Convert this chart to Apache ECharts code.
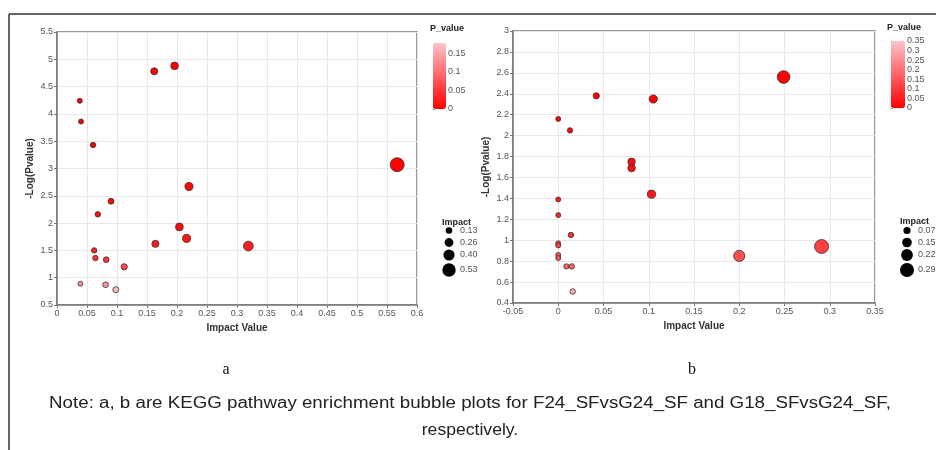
<!DOCTYPE html>
<html>
<head>
<meta charset="utf-8">
<script src="https://cdn.jsdelivr.net/npm/echarts@6/dist/echarts.min.js"></script>
<style>
  html, body { margin: 0; padding: 0; background: #fff; }
  #main { width: 936px; height: 450px; }
</style>
</head>
<body>
<div id="main"></div>
<script>
var chartDom = document.getElementById('main');
var myChart = echarts.init(chartDom);
var option;

// plot a : F24_SFvsG24_SF
var impactA = [0.162, 0.196, 0.038, 0.040, 0.060, 0.567, 0.220, 0.090, 0.068, 0.204,
               0.216, 0.164, 0.319, 0.062, 0.064, 0.082, 0.112, 0.039, 0.081, 0.098];
var logPA   = [4.78, 4.88, 4.24, 3.86, 3.43, 3.07, 2.67, 2.40, 2.16, 1.93,
               1.72, 1.62, 1.58, 1.50, 1.36, 1.33, 1.20, 0.89, 0.87, 0.78];

// plot b : G18_SFvsG24_SF
var impactB = [0.249, 0.042, 0.105, 0.000, 0.013, 0.081, 0.081, 0.103, 0.000, 0.000,
               0.014, 0.000, 0.000, 0.000, 0.000, 0.291, 0.200, 0.009, 0.015, 0.016];
var logPB   = [2.56, 2.38, 2.35, 2.16, 2.05, 1.75, 1.69, 1.44, 1.39, 1.24,
               1.05, 0.97, 0.95, 0.86, 0.83, 0.94, 0.85, 0.75, 0.75, 0.51];

var pTicksA = [0, 0.05, 0.1, 0.15];
var pTicksB = [0, 0.05, 0.1, 0.15, 0.2, 0.25, 0.3, 0.35];
var sizeLegendA = [0.13, 0.26, 0.40, 0.53];
var sizeLegendB = [0.07, 0.15, 0.22, 0.29];

function build(imp, lp) {
    var out = [];
    for (var i = 0; i < imp.length; i++) {
        out.push([imp[i], lp[i], Math.pow(10, -lp[i])]);
    }
    return out;
}

function sizer(imp) {
    var lo = Math.min.apply(null, imp), hi = Math.max.apply(null, imp);
    return function (v) { return 5 + 9 * (v - lo) / (hi - lo); };
}
var sizeA = sizer(impactA);
var sizeB = sizer(impactB);

var font = 'Liberation Sans, Arial, sans-serif';
var axisGray = '#777';

function plotX(grid, min, max) {
    return {
        gridIndex: grid, type: 'value', min: min, max: max, interval: 0.05,
        name: 'Impact Value', nameLocation: 'middle', nameGap: 14,
        nameTextStyle: { fontFamily: font, fontWeight: 'bold', fontSize: 10, color: '#333' },
        axisLine: { onZero: false, lineStyle: { color: axisGray, width: 1.5 } },
        axisTick: { show: true, length: 3, lineStyle: { color: axisGray } },
        axisLabel: { fontFamily: font, fontSize: 9, color: '#555', margin: 4 },
        splitLine: { show: true, lineStyle: { color: '#e8e8e8' } }
    };
}
function plotY(grid, min, max, step) {
    return {
        gridIndex: grid, type: 'value', min: min, max: max, interval: step,
        name: '-Log(Pvalue)', nameLocation: 'middle', nameGap: 22, nameRotate: 90,
        nameTextStyle: { fontFamily: font, fontWeight: 'bold', fontSize: 10, color: '#333' },
        axisLine: { onZero: false, lineStyle: { color: axisGray, width: 1.5 } },
        axisTick: { show: true, length: 3, lineStyle: { color: axisGray } },
        axisLabel: { fontFamily: font, fontSize: 9, color: '#555', margin: 4 },
        splitLine: { show: true, lineStyle: { color: '#e8e8e8' } }
    };
}
function barX(grid) {
    return { gridIndex: grid, type: 'value', show: false };
}
function barY(grid, max, ticks) {
    return {
        gridIndex: grid, type: 'value', position: 'right', min: 0, max: max,
        axisLine: { show: false },
        axisTick: { show: true, length: 2, customValues: ticks, lineStyle: { color: '#888' } },
        axisLabel: { fontFamily: font, fontSize: 9, color: '#555', margin: 2, customValues: ticks },
        splitLine: { show: false }
    };
}

function sizeLegend(x, y, values, fn) {
    var items = [{
        type: 'text', left: x - 4, top: y - 12,
        style: { text: 'Impact', font: 'bold 9px ' + font, fill: '#222' }
    }];
    var rows = [230.5, 242.5, 255, 270];
    for (var i = 0; i < values.length; i++) {
        var r = fn(values[i]) / 2;
        items.push({ type: 'circle', shape: { cx: x + 3, cy: rows[i], r: r }, style: { fill: '#000' } });
        items.push({
            type: 'text', x: x + 14, y: rows[i],
            style: { text: values[i].toFixed(2), font: '9px ' + font, fill: '#555', verticalAlign: 'middle' }
        });
    }
    return items;
}

var graphics = [
    { type: 'line', shape: { x1: 9, y1: 14, x2: 936, y2: 14 }, style: { stroke: '#333', lineWidth: 1.5 } },
    { type: 'line', shape: { x1: 9, y1: 14, x2: 9, y2: 450 }, style: { stroke: '#333', lineWidth: 1.5 } },
    { type: 'text', left: 430, top: 24, style: { text: 'P_value', font: 'bold 9px ' + font, fill: '#222' } },
    { type: 'text', left: 887, top: 23, style: { text: 'P_value', font: 'bold 9px ' + font, fill: '#222' } },
    { type: 'text', x: 226, y: 370, style: { text: 'a', font: '16px Liberation Serif, serif', fill: '#111', align: 'center', verticalAlign: 'middle' } },
    { type: 'text', x: 692, y: 370, style: { text: 'b', font: '16px Liberation Serif, serif', fill: '#111', align: 'center', verticalAlign: 'middle' } },
    { type: 'text', x: 470, y: 404, scaleX: 1.17, style: { text: 'Note: a, b are KEGG pathway enrichment bubble plots for F24_SFvsG24_SF and G18_SFvsG24_SF,', font: '16px ' + font, fill: '#222', align: 'center', verticalAlign: 'middle' } },
    { type: 'text', x: 470, y: 431, scaleX: 1.1, style: { text: 'respectively.', font: '16px ' + font, fill: '#222', align: 'center', verticalAlign: 'middle' } }
].concat(sizeLegend(446, 230, sizeLegendA, sizeA), sizeLegend(904, 229, sizeLegendB, sizeB));

option = {
    backgroundColor: '#fff',
    animation: false,
    grid: [
        { left: 57, top: 32, width: 360, height: 273, show: true, borderColor: axisGray, borderWidth: 1.5 },
        { left: 513, top: 31, width: 362, height: 272, show: true, borderColor: axisGray, borderWidth: 1.5 },
        { left: 433, top: 43, width: 13, height: 66 },
        { left: 891, top: 41, width: 14, height: 67 }
    ],
    xAxis: [plotX(0, 0, 0.6), plotX(1, -0.05, 0.35), barX(2), barX(3)],
    yAxis: [plotY(0, 0.5, 5.5, 0.5), plotY(1, 0.4, 3, 0.2), barY(2, 0.178, pTicksA), barY(3, 0.35, pTicksB)],
    visualMap: [
        {
            type: 'continuous', seriesIndex: 0, dimension: 2, min: 0, max: 0.178,
            inRange: { color: ['#ff0000', '#ffc4cc'] },
            calculable: false, text: null, showLabel: false, padding: 0,
            itemWidth: 13, itemHeight: 66, left: 433, top: 43
        },
        {
            type: 'continuous', seriesIndex: 1, dimension: 2, min: 0, max: 0.35,
            inRange: { color: ['#ff0000', '#ffc4cc'] },
            calculable: false, text: null, showLabel: false, padding: 0,
            itemWidth: 14, itemHeight: 67, left: 891, top: 41
        }
    ],
    series: [
        {
            type: 'scatter', xAxisIndex: 0, yAxisIndex: 0, data: build(impactA, logPA),
            symbolSize: function (d) { return sizeA(d[0]); },
            itemStyle: { borderColor: '#333', borderWidth: 0.8, opacity: 1 }
        },
        {
            type: 'scatter', xAxisIndex: 1, yAxisIndex: 1, data: build(impactB, logPB),
            symbolSize: function (d) { return sizeB(d[0]); },
            itemStyle: { borderColor: '#333', borderWidth: 0.8, opacity: 1 }
        }
    ],
    graphic: graphics
};

option && myChart.setOption(option);
</script>
</body>
</html>
